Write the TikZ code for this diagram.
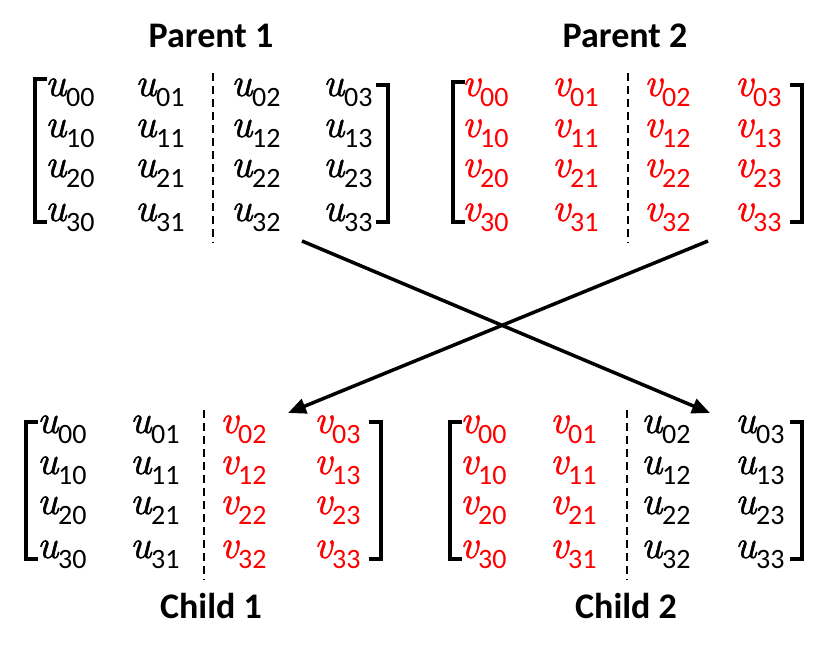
\documentclass[tikz,border=0pt]{standalone}
\usepackage{fontspec}
\setmainfont{Latin Modern Roman}
\newfontfamily\carl{Carlito}
\newfontfamily\letfont[FakeBold=1.3]{Latin Modern Roman}
\usetikzlibrary{arrows.meta}
\definecolor{vred}{RGB}{255,0,0}
\newcommand{\msub}[1]{\raisebox{-10pt}{\upshape\carl\fontsize{28}{28}\selectfont #1}}
\tikzset{
  entry/.style={anchor=base west, inner sep=0pt, font=\letfont\fontsize{40}{40}\selectfont\itshape},
  title/.style={anchor=base, inner sep=0pt, font=\carl\bfseries\fontsize{36}{36}\selectfont},
  bracket/.style={line width=3.5pt, miter limit=10},
  dashline/.style={line width=2pt, dash pattern=on 8pt off 5pt},
  cross/.style={line width=3.5pt, -{Triangle[length=18pt,width=15pt]}}
}
\begin{document}
\begin{tikzpicture}[x=1pt,y=-1pt]
\useasboundingbox (0,0) rectangle (830,654);
\foreach \P/\xl/\xr/\xd/\cA/\cB/\cC/\cD/\dy/\lt/\LL/\LC/\RL/\RC in {
  p1/35/388/213/45/135/231/323/0/79/u/black/u/black,
  p2/453/802/628/462/552/644/735/0/82/v/vred/v/vred,
  c1/26/381/204/37/130/220/314/337/85/u/black/v/vred,
  c2/450/802/627/460/550/641/735/337/85/v/vred/u/black}{
  \draw[bracket] (\xl+12,\lt+\dy) -- (\xl,\lt+\dy) -- (\xl,222+\dy) -- (\xl+12,222+\dy);
  \draw[bracket] (\xr-12,85+\dy) -- (\xr,85+\dy) -- (\xr,222+\dy) -- (\xr-12,222+\dy);
  \draw[dashline] (\xd,68+\dy+5) -- (\xd,238+\dy+5);
  \foreach \r/\yy in {0/96,1/137,2/177,3/221}{
    \foreach \c/\xx in {0/\cA,1/\cB,2/\cC,3/\cD}{
      \ifnum\c<2 \edef\L{\LL}\edef\C{\LC}\else\edef\L{\RL}\edef\C{\RC}\fi
      \node[entry,text=\C] (\P-\r\c) at (\xx,\yy+\dy) {\L\msub{\r\c}};
    }
  }
}
\node[title] (t1) at (211,47) {Parent 1};
\node[title] (t2) at (625,47) {Parent 2};
\node[title] (t3) at (211,618) {Child 1};
\node[title] (t4) at (626,618) {Child 2};
\coordinate (a1s) at (302,241);
\coordinate (a1e) at (710,413);
\coordinate (a2s) at (708,241);
\coordinate (a2e) at (288,413);
\draw[cross] (a1s) -- (a1e);
\draw[cross] (a2s) -- (a2e);
\end{tikzpicture}
\end{document}
